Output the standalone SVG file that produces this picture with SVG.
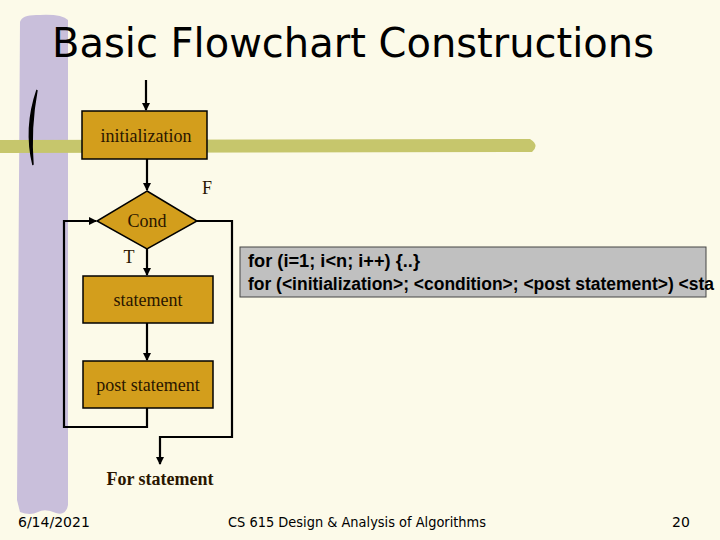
<svg xmlns="http://www.w3.org/2000/svg" width="720" height="540" viewBox="0 0 720 540">
<style>
.box{fill:#d39e1c;stroke:#000;stroke-width:1.5}
.lbl{font-family:"Liberation Serif",serif;font-size:18px;fill:#2a1600;text-anchor:middle}
.con{fill:none;stroke:#000;stroke-width:2.2}
.foot{font-family:"DejaVu Sans",sans-serif;font-size:14px;fill:#000}
.code{font-family:"Liberation Sans",Arial,sans-serif;font-size:18px;font-weight:bold;fill:#000}
</style>
<defs>
<marker id="ah" markerWidth="8" markerHeight="8" refX="7" refY="4" orient="auto" markerUnits="userSpaceOnUse">
<path d="M0,0 L8,4 L0,8 z" fill="#000"/>
</marker>
</defs>
<rect width="720" height="540" fill="#fcfae9"/>
<path d="M20,22 Q22,14 40,15 Q62,14 68,20 L68,505 Q66,516 56,513 Q45,508 38,512 Q30,516 20,512 L17,500 Z" fill="#c9bfdb"/>
<path d="M0,140 L530,139 Q540,145 532,152 L0,153 Z" fill="#c6c66c"/>
<path d="M37,90 Q24,128 33,165 Q30,128 37,90 Z" fill="#000" stroke="#000" stroke-width="1.5"/>
<text x="353" y="57" font-family="DejaVu Sans, sans-serif" font-size="41" textLength="602" lengthAdjust="spacingAndGlyphs" text-anchor="middle" fill="#000">Basic Flowchart Constructions</text>
<g id="connectors">
<line x1="146" y1="80" x2="146" y2="110" class="con" stroke-width="1.5" marker-end="url(#ah)"/>
<line x1="147" y1="159" x2="147" y2="190" class="con" marker-end="url(#ah)"/>
<line x1="147" y1="249" x2="147" y2="275" class="con" marker-end="url(#ah)"/>
<line x1="147" y1="323" x2="147" y2="360" class="con" marker-end="url(#ah)"/>
<polyline points="147,408 147,427 64,427 64,221 96,221" class="con" marker-end="url(#ah)"/>
<polyline points="197,221 232,221 232,437 160,437 160,464" class="con" marker-end="url(#ah)"/>
</g>
<g id="init">
<rect x="82" y="111" width="125" height="48" class="box"/>
<text x="146" y="142" class="lbl">initialization</text>
</g>
<g id="cond">
<polygon points="147,191 197,221 147,249 97,221" class="box"/>
<text x="147" y="227" class="lbl">Cond</text>
</g>
<g id="statement">
<rect x="83" y="276" width="130" height="47" class="box"/>
<text x="148" y="306" class="lbl">statement</text>
</g>
<g id="post">
<rect x="83" y="361" width="130" height="47" class="box"/>
<text x="148" y="391" class="lbl">post statement</text>
</g>
<text x="207" y="194" class="lbl">F</text>
<text x="129" y="263" class="lbl">T</text>
<text x="160" y="485" class="lbl" font-weight="bold" fill="#000">For statement</text>
<g id="code">
<rect x="240" y="247" width="466" height="50" fill="#c0c0c0" stroke="#444" stroke-width="1"/>
<text x="248" y="267" class="code" textLength="172" lengthAdjust="spacingAndGlyphs">for (i=1; i&lt;n; i++) {..}</text>
<text x="248" y="290" class="code" textLength="466" lengthAdjust="spacingAndGlyphs">for (&lt;initialization&gt;; &lt;condition&gt;; &lt;post statement&gt;) &lt;sta</text>
</g>
<text x="18" y="527" class="foot">6/14/2021</text>
<text x="228" y="527" class="foot" textLength="258" lengthAdjust="spacingAndGlyphs">CS 615 Design &amp; Analysis of Algorithms</text>
<text x="672" y="527" class="foot">20</text>
</svg>
